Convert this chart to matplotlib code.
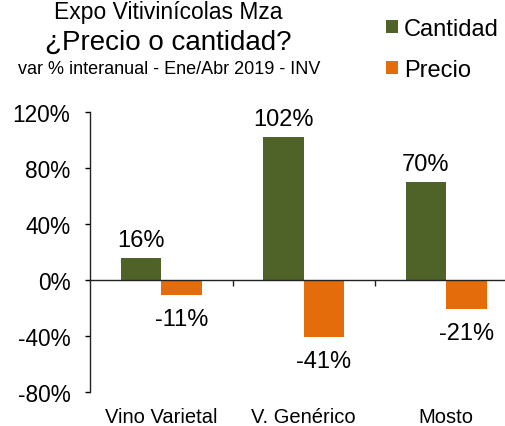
import matplotlib
matplotlib.use('Agg')
from matplotlib import pyplot as plt
import numpy as np

plt.rcParams['font.family'] = ['Liberation Sans', 'DejaVu Sans']

categories = ["Vino Varietal", "V. Genérico", "Mosto"]
cantidad = [16, 102, 70]
precio = [-11, -41, -21]
series_names = ["Cantidad", "Precio"]
yticks = [-80, -40, 0, 40, 80, 120]

green = "#4F6228"
orange = "#E46C0A"

W, H = 505, 427
fig = plt.figure(figsize=(W / 100, H / 100), dpi=100)
# axes deliberately runs past the right edge, like the original
ax = fig.add_axes([90 / W, 34 / H, 427.5 / W, 280 / H])

x = np.arange(len(categories))
bw = 0.285
b1 = ax.bar(x - bw / 2, cantidad, bw, color=green, label=series_names[0])
b2 = ax.bar(x + bw / 2, precio, bw, color=orange, label=series_names[1])

for rect, v in zip(b1, cantidad):
    ax.annotate(f"{v}%", (rect.get_x() + rect.get_width() / 2, v),
                xytext=(0, 18), textcoords='offset pixels',
                ha='center', va='center', fontsize=17)
for rect, v in zip(b2, precio):
    ax.annotate(f"{v}%", (rect.get_x() + rect.get_width() / 2, v),
                xytext=(0, -24), textcoords='offset pixels',
                ha='center', va='center', fontsize=17)

ax.set_xlim(-0.5, len(categories) - 0.5)
ax.set_ylim(yticks[0], yticks[-1])
ax.set_yticks(yticks)
ax.set_yticklabels([f"{t}%" for t in yticks], fontsize=16.3)
ax.tick_params(axis='y', direction='out', length=5 * 0.72, width=1, pad=10.5)

ax.spines['top'].set_visible(False)
ax.spines['right'].set_visible(False)
ax.spines['bottom'].set_position(('data', 0))
for s in ('left', 'bottom'):
    ax.spines[s].set_color('#222222')
    ax.spines[s].set_linewidth(1)

ax.set_xticks(x[:-1] + 0.5)
ax.set_xticklabels([])
ax.tick_params(axis='x', direction='out', length=6 * 0.72, width=1, color='#222222')

trans = matplotlib.transforms.blended_transform_factory(ax.transData, ax.transAxes)
for i, c in enumerate(categories):
    ax.text(i, -25 / 280, c, transform=trans, ha='center', va='center', fontsize=14.5)

fig.text(168.5 / W, 1 - 18.5 / H, "Expo Vitivinícolas Mza", ha='center', va='baseline', fontsize=16.5)
fig.text(168.5 / W, 1 - 50 / H, "¿Precio o cantidad?", ha='center', va='baseline', fontsize=20)
fig.text(169 / W, 1 - 74 / H, "var % interanual - Ene/Abr 2019 - INV", ha='center', va='baseline', fontsize=13)

fig.legend(handles=[b1, b2], loc='upper left', bbox_to_anchor=(386 / W, 1 - 19 / H),
           frameon=False, fontsize=17, handlelength=0.5, handleheight=0.5,
           handletextpad=0.25, labelspacing=0.8, borderpad=0, borderaxespad=0)

fig.savefig("out.png", dpi=100)
